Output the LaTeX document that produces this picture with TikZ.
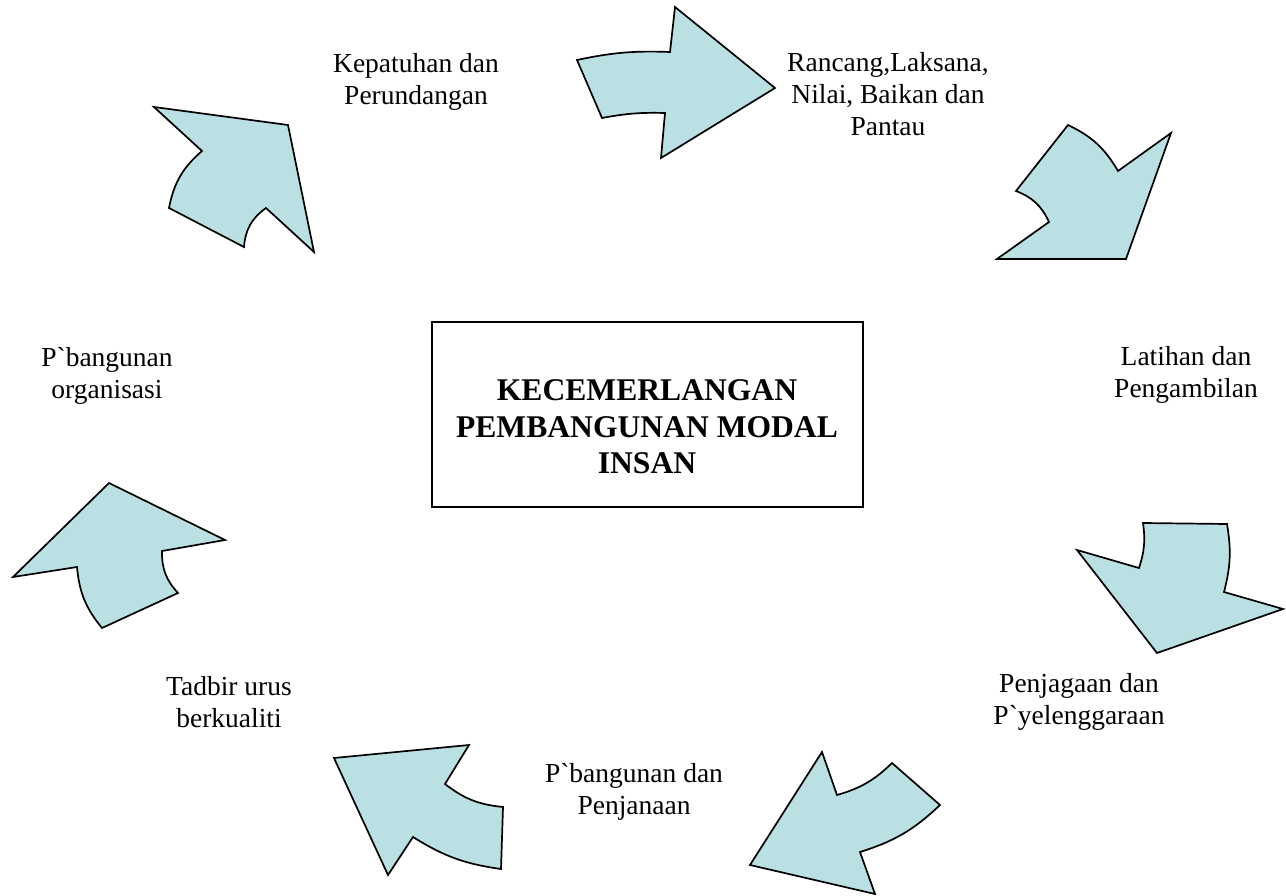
\documentclass[tikz,border=0pt]{standalone}
\usepackage{fontspec}
\setmainfont{Liberation Serif}[Ligatures=TeXOff]
\definecolor{arrowfill}{RGB}{187,224,227}
\begin{document}
\begin{tikzpicture}[x=1pt,y=-1pt,
  bigarrow/.style={draw=black, fill=arrowfill, line width=1.7pt, line join=miter},
  lbl/.style={align=center, font=\fontsize{27.5}{32}\selectfont, inner sep=0pt, anchor=center},
  titlebox/.style={draw=black, line width=1.7pt, minimum width=431pt, minimum height=185pt, inner sep=0pt},
  titletext/.style={align=center, font=\fontsize{31.6}{36.5}\selectfont\bfseries, inner sep=0pt}]
\useasboundingbox (0,0) rectangle (1286,896);

% centre box
\node[titlebox] (box) at (647.5,414.5) {};
\node[titletext] (title) at (647,427) {KECEMERLANGAN\\PEMBANGUNAN MODAL\\INSAN};

% labels
\node[lbl] (kep) at (416,81.5) {Kepatuhan dan\\Perundangan};
\node[lbl] (ran) at (888,94.5) {Rancang,Laksana,\\Nilai, Baikan dan\\Pantau};
\node[lbl] (lat) at (1186,375) {Latihan dan\\Pengambilan};
\node[lbl] (pen) at (1079,702) {Penjagaan dan\\P`yelenggaraan};
\node[lbl] (pbd) at (634,791.5) {P`bangunan dan\\Penjanaan};
\node[lbl] (tad) at (229,702.5) {Tadbir urus\\berkualiti};
\node[lbl] (pba) at (107,375.5) {P`bangunan\\organisasi};

% arrows
\draw[bigarrow] (577,60) to[bend left=7] (670,52) -- (675,7) -- (775,88) -- (661,158)
  -- (665,113) to[bend right=6] (602,118) -- cycle;
\draw[bigarrow] (1068,125) to[bend left=17] (1118,171) -- (1171,133) -- (1126,259)
  -- (997,259) -- (1049,222) to[bend right=22] (1016,191) -- cycle;
\draw[bigarrow] (1143,523) -- (1227,524) to[bend left=12] (1224,592) -- (1283,609)
  -- (1157,653) -- (1077,550) -- (1139,568) to[bend right=13] cycle;
\draw[bigarrow] (892,763) -- (940,805) to[bend left=13] (860,852) -- (875,894)
  -- (750,865) -- (822,752) -- (837,795) to[bend right=14] cycle;
\draw[bigarrow] (334,758) -- (469,745) -- (445,784) to[bend right=16] (503,807)
  -- (501,869) to[bend left=12] (413,837) -- (388,875) -- cycle;
\draw[bigarrow] (109,483) -- (225,540) -- (162,551) to[bend right=22] (178,593)
  -- (102,628) to[bend left=17] (77,567) -- (13,577) -- cycle;
\draw[bigarrow] (154,107) -- (288,125) -- (314,252) -- (266,208) to[bend right=25] (244,247)
  -- (169,208) to[bend left=19] (202,151) -- cycle;
\end{tikzpicture}
\end{document}
